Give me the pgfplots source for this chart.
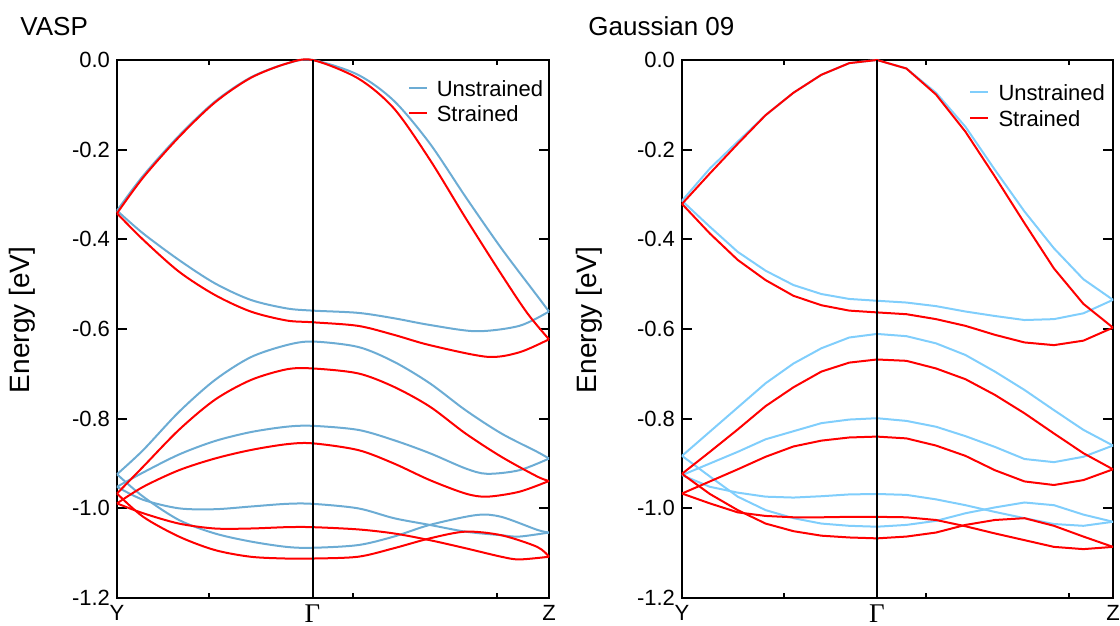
\documentclass[border=0pt]{standalone}
\usepackage[no-math]{fontspec}
\setmainfont{Liberation Sans}
\newfontfamily\gammafont{Liberation Serif}
\usepackage{pgfplots}
\pgfplotsset{compat=1.18}

\definecolor{vblue}{RGB}{108,172,212}
\definecolor{gblue}{RGB}{128,206,252}
\definecolor{sred}{RGB}{255,0,0}

\pgfplotsset{
  bandaxis/.style={
    scale only axis, width=216pt, height=269pt, anchor=south west,
    xmin=0, xmax=3, ymin=-1.2, ymax=0, clip=false,
    axis line style={line width=1pt},
    tick align=inside, tick pos=both,
    major tick length=5pt, minor tick length=2.5pt,
    tick style={black, line width=1pt},
    xtick={0,1.358,3}, xticklabels={Y,{\fontsize{13.5}{14}\selectfont\gammafont Γ},Z},
    ytick={-1.2,-1,-0.8,-0.6,-0.4,-0.2,0},
    yticklabel style={/pgf/number format/fixed, /pgf/number format/fixed zerofill, /pgf/number format/precision=1},
    /pgf/number format/assume math mode=true,
    ticklabel style={font=\fontsize{11}{13}\selectfont},
    legend style={draw=none, fill=none, at={(1,1)}, anchor=north east,
      inner sep=0pt, row sep=0pt, font=\fontsize{11}{13}\selectfont,
      nodes={inner sep=1pt, text height=8pt, text depth=2.5pt},
      /tikz/every odd column/.append style={column sep=3.3pt}},
    legend cell align=left,
    legend image code/.code={\draw[##1] (0pt,1.5pt) -- (9pt,1.5pt);},
    ylabel={Energy [eV]},
    ylabel style={font=\fontsize{14}{16}\selectfont, anchor=center},
  },
  band/.style={line width=1pt},
}

\begin{document}
\begin{tikzpicture}
\useasboundingbox (0,0) rectangle (560pt,313pt);

% ---------------- VASP ----------------
\begin{axis}[bandaxis, at={(58.5pt,14pt)},
  minor xtick={0.637,1.637,2.637},
  ylabel style={at={(axis description cs:-0.2187,0.517)}},
  legend style={xshift=-1.7pt, yshift=-9.25pt}]
\node[anchor=base west, inner sep=0pt, xshift=-48.5pt, yshift=12pt, font=\fontsize{13}{15}\selectfont] at (rel axis cs:0,1) {VASP};

% unstrained
\addplot[band, vblue, smooth] coordinates {(0,-0.336) (0.182,-0.258) (0.430,-0.169) (0.679,-0.093) (0.928,-0.039) (1.177,-0.008) (1.358,0) (1.674,-0.033) (1.923,-0.091) (2.172,-0.186) (2.420,-0.305) (2.669,-0.420) (2.918,-0.526) (3.0,-0.561)};
\addlegendentry{Unstrained}
\addplot[band, vblue, smooth, forget plot] coordinates {(0,-0.336) (0.182,-0.387) (0.430,-0.446) (0.679,-0.498) (0.928,-0.535) (1.177,-0.554) (1.358,-0.559) (1.674,-0.564) (1.923,-0.576) (2.172,-0.591) (2.495,-0.605) (2.794,-0.593) (3.0,-0.561)};
\addplot[band, vblue, smooth, forget plot] coordinates {(0,-0.924) (0.182,-0.870) (0.430,-0.785) (0.679,-0.714) (0.928,-0.663) (1.177,-0.636) (1.358,-0.628) (1.674,-0.640) (1.923,-0.673) (2.172,-0.721) (2.420,-0.781) (2.669,-0.833) (2.918,-0.874) (3.0,-0.889)};
\addplot[band, vblue, smooth, forget plot] coordinates {(0,-0.952) (0.182,-0.920) (0.430,-0.880) (0.679,-0.850) (0.928,-0.830) (1.177,-0.818) (1.358,-0.816) (1.674,-0.825) (1.923,-0.848) (2.172,-0.877) (2.420,-0.911) (2.570,-0.923) (2.794,-0.915) (3.0,-0.889)};
\addplot[band, vblue, smooth, forget plot] coordinates {(0,-0.952) (0.182,-0.981) (0.430,-1.000) (0.679,-1.002) (0.928,-0.996) (1.177,-0.990) (1.358,-0.990) (1.674,-1.000) (1.923,-1.022) (2.172,-1.037) (2.420,-1.052) (2.669,-1.060) (2.794,-1.063) (3.0,-1.054)};
\addplot[band, vblue, smooth, forget plot] coordinates {(0,-0.924) (0.182,-0.974) (0.430,-1.026) (0.679,-1.056) (0.928,-1.074) (1.177,-1.086) (1.358,-1.088) (1.674,-1.082) (1.923,-1.063) (2.172,-1.037) (2.495,-1.015) (2.669,-1.019) (2.918,-1.048) (3.0,-1.054)};

% strained
\addplot[band, sred, smooth] coordinates {(0,-0.342) (0.182,-0.262) (0.430,-0.172) (0.679,-0.095) (0.928,-0.040) (1.177,-0.008) (1.358,0) (1.674,-0.041) (1.923,-0.108) (2.172,-0.222) (2.420,-0.352) (2.669,-0.478) (2.850,-0.565) (3.0,-0.623)};
\addlegendentry{Strained}
\addplot[band, sred, smooth, forget plot] coordinates {(0,-0.342) (0.182,-0.401) (0.430,-0.472) (0.679,-0.524) (0.928,-0.561) (1.177,-0.581) (1.358,-0.585) (1.674,-0.593) (1.923,-0.613) (2.172,-0.636) (2.570,-0.662) (2.794,-0.652) (3.0,-0.623)};
\addplot[band, sred, smooth, forget plot] coordinates {(0,-0.967) (0.182,-0.907) (0.430,-0.825) (0.679,-0.758) (0.928,-0.714) (1.177,-0.690) (1.358,-0.688) (1.674,-0.699) (1.923,-0.729) (2.172,-0.773) (2.420,-0.833) (2.669,-0.885) (2.918,-0.929) (3.0,-0.939)};
\addplot[band, sred, smooth, forget plot] coordinates {(0,-0.989) (0.182,-0.952) (0.430,-0.915) (0.679,-0.889) (0.928,-0.870) (1.177,-0.857) (1.358,-0.855) (1.674,-0.870) (1.923,-0.900) (2.172,-0.937) (2.420,-0.967) (2.570,-0.974) (2.794,-0.963) (3.0,-0.939)};
\addplot[band, sred, smooth, forget plot] coordinates {(0,-0.989) (0.182,-1.011) (0.430,-1.034) (0.679,-1.045) (0.928,-1.045) (1.177,-1.042) (1.358,-1.042) (1.674,-1.047) (1.923,-1.056) (2.172,-1.071) (2.420,-1.089) (2.669,-1.108) (2.794,-1.114) (3.0,-1.108)};
\addplot[band, sred, smooth, forget plot] coordinates {(0,-0.967) (0.182,-1.019) (0.430,-1.063) (0.679,-1.093) (0.928,-1.108) (1.177,-1.112) (1.358,-1.112) (1.674,-1.108) (1.923,-1.089) (2.172,-1.067) (2.420,-1.052) (2.669,-1.060) (2.918,-1.086) (3.0,-1.108)};

\addplot[black, line width=1pt, forget plot] coordinates {(1.358,-1.2) (1.358,0)};
\end{axis}

% ---------------- Gaussian 09 ----------------
\begin{axis}[bandaxis, at={(341pt,14pt)}, width=215.5pt,
  xtick={0,1.357,3},
  minor xtick={0.709,1.698,2.694},
  ylabel style={at={(axis description cs:-0.2158,0.517)}},
  legend style={xshift=-2.6pt, yshift=-10.7pt, nodes={inner sep=1.25pt}}]
\node[anchor=base west, inner sep=0pt, xshift=-47pt, yshift=12pt, font=\fontsize{13}{15}\selectfont] at (rel axis cs:0,1) {Gaussian 09};

% unstrained
\addplot[band, gblue] coordinates {(0,-0.314) (0.194,-0.242) (0.388,-0.182) (0.582,-0.123) (0.776,-0.073) (0.970,-0.033) (1.164,-0.007) (1.357,0) (1.562,-0.019) (1.768,-0.073) (1.973,-0.149) (2.178,-0.245) (2.384,-0.338) (2.589,-0.420) (2.794,-0.489) (3.0,-0.535)};
\addlegendentry{Unstrained}
\addplot[band, gblue, forget plot] coordinates {(0,-0.314) (0.194,-0.372) (0.388,-0.428) (0.582,-0.470) (0.776,-0.502) (0.970,-0.522) (1.164,-0.533) (1.357,-0.537) (1.562,-0.541) (1.768,-0.549) (1.973,-0.561) (2.178,-0.571) (2.384,-0.580) (2.589,-0.578) (2.794,-0.565) (3.0,-0.535)};
\addplot[band, gblue, forget plot] coordinates {(0,-0.883) (0.194,-0.829) (0.388,-0.775) (0.582,-0.721) (0.776,-0.677) (0.970,-0.643) (1.164,-0.619) (1.357,-0.611) (1.562,-0.616) (1.768,-0.632) (1.973,-0.658) (2.178,-0.695) (2.384,-0.736) (2.589,-0.781) (2.794,-0.825) (3.0,-0.860)};
\addplot[band, gblue, forget plot] coordinates {(0,-0.926) (0.194,-0.900) (0.388,-0.874) (0.582,-0.846) (0.776,-0.828) (0.970,-0.810) (1.164,-0.802) (1.357,-0.799) (1.562,-0.805) (1.768,-0.818) (1.973,-0.839) (2.178,-0.863) (2.384,-0.890) (2.589,-0.897) (2.794,-0.885) (3.0,-0.860)};
\addplot[band, gblue, forget plot] coordinates {(0,-0.926) (0.194,-0.952) (0.388,-0.965) (0.582,-0.974) (0.776,-0.976) (0.970,-0.973) (1.164,-0.969) (1.357,-0.968) (1.562,-0.970) (1.768,-0.980) (1.973,-0.993) (2.178,-1.008) (2.384,-1.022) (2.589,-1.035) (2.794,-1.039) (3.0,-1.030)};
\addplot[band, gblue, forget plot] coordinates {(0,-0.883) (0.194,-0.929) (0.388,-0.974) (0.582,-1.004) (0.776,-1.022) (0.970,-1.034) (1.164,-1.039) (1.357,-1.041) (1.562,-1.037) (1.768,-1.028) (1.973,-1.011) (2.178,-0.998) (2.384,-0.987) (2.589,-0.993) (2.794,-1.014) (3.0,-1.030)};

% strained
\addplot[band, sred] coordinates {(0,-0.321) (0.194,-0.253) (0.388,-0.187) (0.582,-0.123) (0.776,-0.073) (0.970,-0.033) (1.164,-0.007) (1.357,0) (1.562,-0.019) (1.768,-0.077) (1.973,-0.160) (2.178,-0.260) (2.384,-0.364) (2.589,-0.465) (2.794,-0.544) (3.0,-0.597)};
\addlegendentry{Strained}
\addplot[band, sred, forget plot] coordinates {(0,-0.321) (0.194,-0.387) (0.388,-0.446) (0.582,-0.491) (0.776,-0.526) (0.970,-0.547) (1.164,-0.559) (1.357,-0.563) (1.562,-0.567) (1.768,-0.578) (1.973,-0.593) (2.178,-0.613) (2.384,-0.630) (2.589,-0.636) (2.794,-0.626) (3.0,-0.597)};
\addplot[band, sred, forget plot] coordinates {(0,-0.923) (0.194,-0.874) (0.388,-0.824) (0.582,-0.772) (0.776,-0.730) (0.970,-0.695) (1.164,-0.675) (1.357,-0.668) (1.562,-0.671) (1.768,-0.688) (1.973,-0.712) (2.178,-0.747) (2.384,-0.788) (2.589,-0.833) (2.794,-0.877) (3.0,-0.913)};
\addplot[band, sred, forget plot] coordinates {(0,-0.967) (0.194,-0.940) (0.388,-0.913) (0.582,-0.885) (0.776,-0.862) (0.970,-0.849) (1.164,-0.842) (1.357,-0.840) (1.562,-0.844) (1.768,-0.860) (1.973,-0.883) (2.178,-0.915) (2.384,-0.940) (2.589,-0.948) (2.794,-0.937) (3.0,-0.913)};
\addplot[band, sred, forget plot] coordinates {(0,-0.967) (0.194,-0.989) (0.388,-1.009) (0.582,-1.017) (0.776,-1.020) (0.970,-1.020) (1.164,-1.019) (1.357,-1.019) (1.562,-1.020) (1.768,-1.026) (1.973,-1.040) (2.178,-1.056) (2.384,-1.071) (2.589,-1.086) (2.794,-1.091) (3.0,-1.086)};
\addplot[band, sred, forget plot] coordinates {(0,-0.923) (0.194,-0.968) (0.388,-1.004) (0.582,-1.034) (0.776,-1.051) (0.970,-1.061) (1.164,-1.065) (1.357,-1.067) (1.562,-1.063) (1.768,-1.054) (1.973,-1.037) (2.178,-1.026) (2.384,-1.022) (2.589,-1.039) (2.794,-1.063) (3.0,-1.086)};

\addplot[black, line width=1pt, forget plot] coordinates {(1.357,-1.2) (1.357,0)};
\end{axis}
\end{tikzpicture}
\end{document}
